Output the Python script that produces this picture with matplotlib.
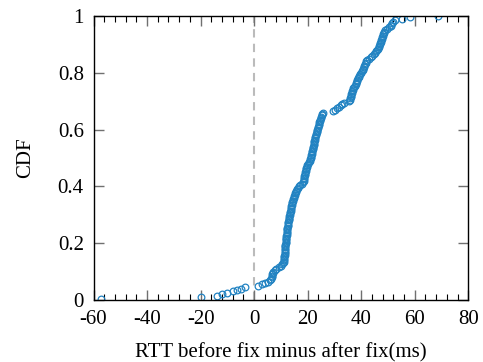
import numpy as np
from matplotlib import pyplot as plt
from matplotlib.ticker import MultipleLocator

# RTT difference samples (ms), sorted
tail_neg = [-57.3, -20, -14, -12, -10, -8, -6.5, -5, -3.5]
low = [1.4, 2.9, 4.0, 5.1,
       6.0, 6.3, 6.5, 6.6, 6.7, 6.9, 7.2,
       7.7, 8.3, 9.3, 10.0, 10.4, 10.8, 11.0]
steep = [11.2, 11.2, 11.3, 11.3, 11.4, 11.4, 11.5, 11.5, 11.6, 11.6, 11.7, 11.7, 11.8,
         11.8, 11.9, 11.9, 12.0, 12.0, 12.1, 12.1, 12.2, 12.2, 12.3,
         12.4, 12.5, 12.6, 12.7, 12.8, 12.9, 13.0, 13.1, 13.2, 13.3,
         13.4, 13.5, 13.6, 13.7, 13.8, 13.9, 14.0, 14.2, 14.3, 14.5,
         14.6, 14.8, 14.9, 15.1, 15.3, 15.5]
mid = [15.8, 16.0, 16.3, 16.7,
       17.2, 17.8, 18.3,
       18.5, 18.6, 18.7, 18.8, 18.9, 19.0, 19.1, 19.2, 19.3, 19.5, 19.6,
       19.8, 20.1, 20.5, 20.8,
       21.0, 21.1, 21.2, 21.4, 21.5, 21.6, 21.7, 21.9, 22.0,
       22.1, 22.2, 22.3, 22.4, 22.5, 22.7, 22.8, 22.9, 23.0, 23.2, 23.3, 23.5, 23.6, 23.8, 24.0,
       24.1, 24.2, 24.4, 24.5, 24.7, 24.8, 25.0, 25.2, 25.4, 25.6]
upper = [29.5, 30.2, 31.0, 31.8, 32.5, 33.0, 33.6,
         35.5,
         35.8, 35.9, 36.0, 36.1, 36.3, 36.5, 36.7, 36.9, 37.1, 37.4, 37.6, 37.9, 38.1, 38.4,
         38.6, 38.8, 39.0, 39.3, 39.6, 39.9, 40.2, 40.6,
         40.8, 41.0, 41.2, 41.4, 41.6, 41.8, 42.0,
         42.8, 43.5, 44.2, 44.8,
         45.2, 45.6, 46.0, 46.3, 46.6,
         46.8, 46.9, 47.0, 47.2, 47.4, 47.6, 47.8, 48.0, 48.2, 48.4, 48.6, 48.8]
tail_pos = [49.5, 50.5, 51.0, 51.3, 51.6, 52.0, 52.6, 55.2, 58.2, 68.6]

samples = np.sort(np.array(tail_neg + low + steep + mid + upper + tail_pos))
cdf = np.arange(1, len(samples) + 1) / len(samples)

plt.rcParams['font.family'] = ['Liberation Serif', 'DejaVu Serif']
plt.rcParams['font.size'] = 15

fig = plt.figure(figsize=(4.83, 3.62), dpi=100)
ax = fig.add_axes([0.1936, 0.1713, 0.7760, 0.7845])

ax.axvline(0, color='#bbbbbb', linestyle=(0, (4, 3)), linewidth=1.5, zorder=1)
ax.plot(samples, cdf, linestyle='none', marker='o', markersize=4.8,
        markerfacecolor='none', markeredgecolor='#2283c2', markeredgewidth=0.9, zorder=2)

ax.set_xlim(-60, 80)
ax.set_ylim(0, 1)
ax.xaxis.set_minor_locator(MultipleLocator(4))
ax.set_yticks([0, 0.2, 0.4, 0.6, 0.8, 1])
ax.set_yticklabels(['0', '0.2', '0.4', '0.6', '0.8', '1'])
ax.set_xticks([-60, -40, -20, 0, 20, 40, 60, 80])
ax.set_xticklabels(['-60', '-40', '-20', '0', '20', '40', '60', '80'])

ax.tick_params(which='both', direction='in', top=True, right=True)
ax.tick_params(which='major', length=7, width=1, color='#707070', pad=7)
ax.tick_params(which='minor', length=4, width=0.8, color='black')
for s in ax.spines.values():
    s.set_linewidth(1.0)
    s.set_color('black')

ax.set_xlabel('RTT before fix minus after fix(ms)', labelpad=10)
ax.set_ylabel('CDF', labelpad=16)

plt.savefig('out.png', dpi=100)
